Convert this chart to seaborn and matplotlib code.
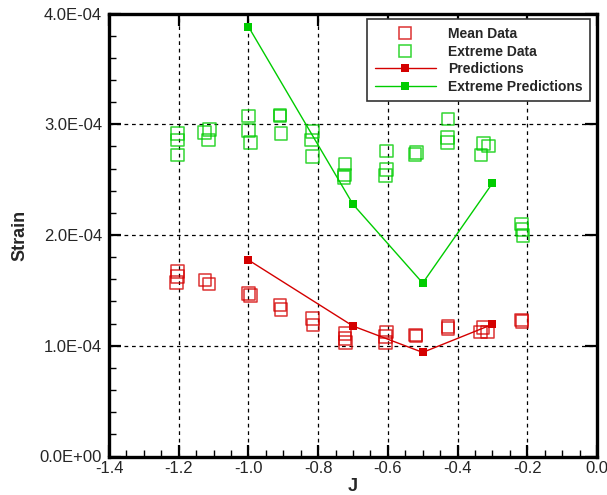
import matplotlib
matplotlib.use("Agg")
import matplotlib.pyplot as plt
from matplotlib.lines import Line2D
from matplotlib.ticker import FixedLocator, FixedFormatter, MultipleLocator
import seaborn as sns

# Measured mean strain per J value (units of 1e-4)
mean_j = [-1.204, -1.204, -1.206, -1.124, -1.113, -1.000, -0.994, -0.909, -0.907,
          -0.817, -0.815, -0.723, -0.723, -0.722, -0.604, -0.607, -0.607, -0.521,
          -0.519, -0.428, -0.428, -0.327, -0.334, -0.314, -0.217, -0.215]
mean_strain = [1.668, 1.623, 1.573, 1.593, 1.557, 1.473, 1.455, 1.368, 1.329,
               1.247, 1.187, 1.112, 1.067, 1.027, 1.126, 1.081, 1.031, 1.097,
               1.088, 1.172, 1.157, 1.166, 1.126, 1.126, 1.232, 1.217]

# Measured extreme strain per J value (units of 1e-4)
extreme_j = [-1.204, -1.204, -1.204, -1.126, -1.112, -1.115, -1.000, -1.000, -0.994,
             -0.910, -0.910, -0.907, -0.816, -0.819, -0.816, -0.723, -0.724, -0.726,
             -0.604, -0.604, -0.607, -0.518, -0.522, -0.427, -0.429, -0.429,
             -0.325, -0.311, -0.333, -0.217, -0.215, -0.212]
extreme_strain = [2.919, 2.858, 2.723, 2.928, 2.955, 2.858, 3.075, 2.942, 2.837,
                  3.084, 3.075, 2.919, 2.933, 2.858, 2.707, 2.641, 2.542, 2.521,
                  2.759, 2.593, 2.536, 2.747, 2.729, 3.048, 2.879, 2.834,
                  2.825, 2.804, 2.723, 2.099, 2.051, 1.994]

# Model predictions (units of 1e-4)
pred_j = [-1.0, -0.7, -0.5, -0.3]
pred_strain = [1.774, 1.178, 0.940, 1.193]
pred_extreme_strain = [3.881, 2.277, 1.566, 2.467]

x_ticks = [-1.4, -1.2, -1.0, -0.8, -0.6, -0.4, -0.2, 0.0]
x_tick_labels = ["-1.4", "-1.2", "-1.0", "-0.8", "-0.6", "-0.4", "-0.2", "0.0"]
y_ticks = [0.0, 1e-4, 2e-4, 3e-4, 4e-4]
y_tick_labels = ["0.0E+00", "1.0E-04", "2.0E-04", "3.0E-04", "4.0E-04"]

legend_labels = ["Mean Data", "Extreme Data", "Predictions", "Extreme Predictions"]

RED = "#d40000"
GREEN = "#00cc00"
scale = 1e-4

sns.set_style("ticks")
plt.rcParams["font.family"] = ["Liberation Sans", "DejaVu Sans"]

fig = plt.figure(figsize=(6.07, 4.95), dpi=100)
ax = fig.add_axes([109 / 607, 1 - 456.5 / 495, 488 / 607, 443 / 495])

# Measured data as hollow squares
sns.scatterplot(x=mean_j, y=[v * scale for v in mean_strain], ax=ax, marker="s",
                s=82, color=RED, facecolor="none", edgecolor=RED, linewidth=1.1,
                alpha=0.8, legend=False, zorder=3)
sns.scatterplot(x=extreme_j, y=[v * scale for v in extreme_strain], ax=ax, marker="s",
                s=82, color=GREEN, facecolor="none", edgecolor=GREEN, linewidth=1.1,
                alpha=0.8, legend=False, zorder=3)

# Predictions as lines with filled squares
sns.lineplot(x=pred_j, y=[v * scale for v in pred_strain], ax=ax, color=RED,
             linewidth=1.0, marker="s", markersize=5.5, markeredgewidth=0,
             markeredgecolor=RED, markerfacecolor=RED, estimator=None, sort=False,
             legend=False, zorder=4)
sns.lineplot(x=pred_j, y=[v * scale for v in pred_extreme_strain], ax=ax, color=GREEN,
             linewidth=1.0, marker="s", markersize=5.5, markeredgewidth=0,
             markeredgecolor=GREEN, markerfacecolor=GREEN, estimator=None, sort=False,
             legend=False, zorder=4)

ax.set_xlim(-1.4, 0.0)
ax.set_ylim(0.0, 4e-4)

ax.xaxis.set_major_locator(FixedLocator(x_ticks))
ax.xaxis.set_major_formatter(FixedFormatter(x_tick_labels))
ax.yaxis.set_major_locator(FixedLocator(y_ticks))
ax.yaxis.set_major_formatter(FixedFormatter(y_tick_labels))
ax.xaxis.set_minor_locator(MultipleLocator(0.05))
ax.yaxis.set_minor_locator(MultipleLocator(2e-5))

ax.grid(True, which="major", color="black", linestyle=(0, (3, 3)), linewidth=0.9)
ax.set_axisbelow(True)

ax.tick_params(which="major", direction="in", length=8.5, width=1.6, color="black",
               labelsize=12, top=True, right=True)
ax.tick_params(which="minor", direction="in", length=5, width=1.0, color="black")
ax.tick_params(axis="y", which="major", pad=5)
ax.tick_params(axis="x", which="major", pad=3)

for side in ax.spines.values():
    side.set_visible(True)
    side.set_linewidth(2.4)
    side.set_color("black")

ax.set_xlabel("J", fontsize=13, fontweight="bold", labelpad=2)
ax.set_ylabel("Strain", fontsize=13, fontweight="bold", labelpad=8)

handles = [
    Line2D([], [], linestyle="none", marker="s", markersize=8.7, markerfacecolor="none",
           markeredgecolor=RED, markeredgewidth=1.1, alpha=0.8),
    Line2D([], [], linestyle="none", marker="s", markersize=8.7, markerfacecolor="none",
           markeredgecolor=GREEN, markeredgewidth=1.1, alpha=0.8),
    Line2D([], [], color=RED, linewidth=1.0, marker="s", markersize=5.5,
           markeredgewidth=0, markerfacecolor=RED),
    Line2D([], [], color=GREEN, linewidth=1.0, marker="s", markersize=5.5,
           markeredgewidth=0, markerfacecolor=GREEN),
]
leg = ax.legend(handles, legend_labels, loc="upper right",
                bbox_to_anchor=(0.9857, 0.9865), borderaxespad=0,
                prop={"weight": "bold", "size": 10}, handlelength=4.4,
                handletextpad=0.85, labelspacing=0.25, borderpad=0.55,
                fancybox=False, framealpha=1, edgecolor="#333333")
leg.get_frame().set_linewidth(1.2)

fig.savefig("out.png", dpi=100)
